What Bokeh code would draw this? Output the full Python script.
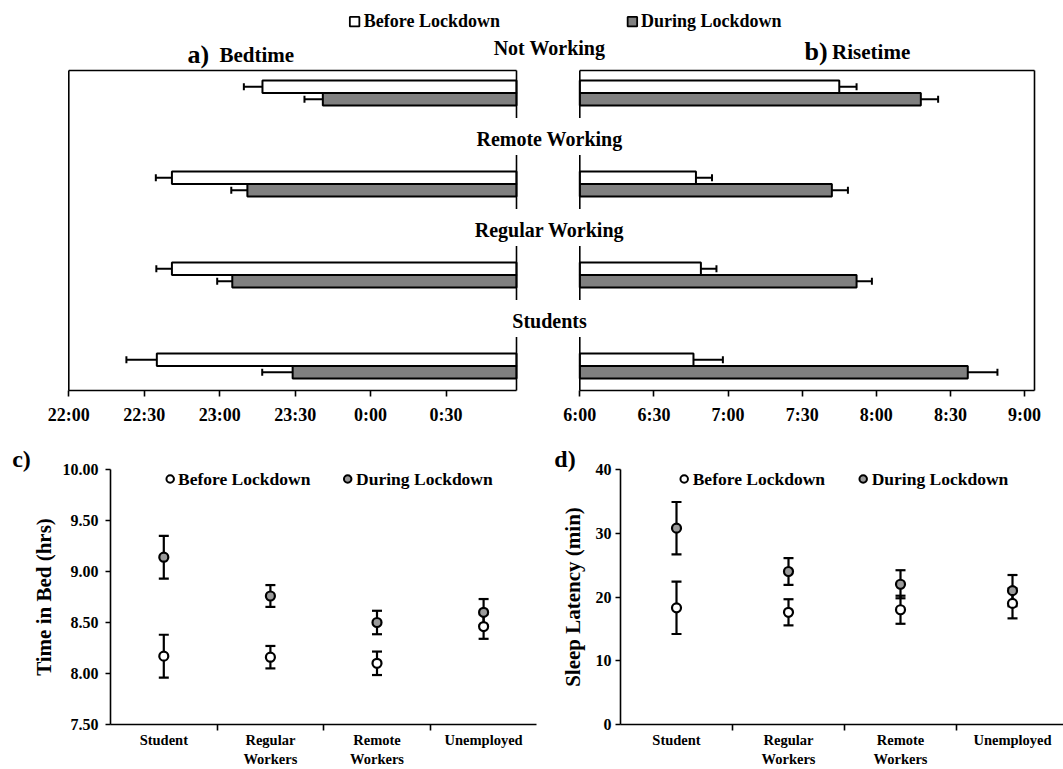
from bokeh.plotting import figure
from bokeh.models import (Range1d, LinearAxis, FixedTicker, Whisker, TeeHead,
                          ColumnDataSource, NumeralTickFormatter)
from bokeh.layouts import column, row
from bokeh.transform import dodge
from bokeh.core.properties import value
from bokeh.embed import file_html
from bokeh.resources import INLINE

FONT = "Liberation Serif"

# ---------------- data ----------------
groups = ["Not Working", "Remote Working", "Regular Working", "Students"]
bed_before = ["23:17", "22:41", "22:41", "22:35"]
bed_before_err = [7.4, 6.4, 6.2, 12.1]          # minutes
bed_during = ["23:41", "23:11", "23:05", "23:29"]
bed_during_err = [7.3, 6.4, 6.0, 12.1]
rise_before = ["7:45", "6:47", "6:49", "6:46"]
rise_before_err = [7.0, 6.5, 6.3, 11.9]
rise_during = ["8:18", "7:42", "7:52", "8:37"]
rise_during_err = [7.0, 6.5, 6.2, 12.0]

bed_ticks = [22, 22.5, 23, 23.5, 24, 24.5]
bed_tick_labels = ["22:00", "22:30", "23:00", "23:30", "0:00", "0:30"]
rise_ticks = [6, 6.5, 7, 7.5, 8, 8.5, 9]
rise_tick_labels = ["6:00", "6:30", "7:00", "7:30", "8:00", "8:30", "9:00"]

categories = ["Student", "Regular\nWorkers", "Remote\nWorkers", "Unemployed"]
tib_before = [8.17, 8.16, 8.10, 8.46]
tib_before_err = [0.21, 0.11, 0.115, 0.12]
tib_during = [9.14, 8.76, 8.50, 8.60]
tib_during_err = [0.21, 0.107, 0.115, 0.13]
tib_ticks = [7.5, 8.0, 8.5, 9.0, 9.5, 10.0]

sl_before = [18.3, 17.6, 18.0, 19.0]
sl_before_err = [4.1, 2.05, 2.2, 2.35]
sl_during = [30.8, 24.0, 22.0, 21.0]
sl_during_err = [4.1, 2.1, 2.2, 2.45]
sl_ticks = [0, 10, 20, 30, 40]

legend_labels = ["Before Lockdown", "During Lockdown"]


def hours(t, night=False):
    h, m = (int(s) for s in t.split(":"))
    v = h + m / 60.0
    if night and v < 12:
        v += 24.0
    return v


# ---------------- layout constants (page pixels) ----------------
PAGE_W = 1063
TOP_H = 430
BOT_H = 339
X0, Y0 = 0, 0
A_L, A_R = 68.3, 516.0
B_L, B_R = 579.3, 1034.0
BOX_T, BOX_B = 70.0, 390.0
BED_MIN, BED_MAX = 22.0, 24 + 58 / 60.0
RISE_MIN, RISE_MAX = 6.0, 9 + 4 / 60.0
G0, GSTEP = 92.5, 91.0
BAR_H, OFF = 12.5, 6.25
LABEL_X = 549.0

WHITE, BARGRAY, DOTGRAY = "white", "#808080", "#9a9a9a"


def lin_range(v0, p0, v1, p1, q0, q1):
    s = (p1 - p0) / (v1 - v0)
    return Range1d(start=v0 + (q0 - p0) / s, end=v0 + (q1 - p0) / s)


def txt(p, xs, ys, texts, size, align="center", baseline="middle", **kw):
    p.text(x=xs, y=ys, text=texts, text_font=value(FONT),
           text_font_size=value(size), text_font_style="bold",
           text_color="black", text_align=align, text_baseline=baseline, **kw)


def style_axis(ax, size):
    ax.axis_line_color = "black"
    ax.axis_line_width = 1.6
    ax.major_tick_line_color = "black"
    ax.major_tick_line_width = 1.6
    ax.minor_tick_line_color = "black"
    ax.minor_tick_line_width = 1.6
    ax.major_label_text_font = FONT
    ax.major_label_text_font_size = size
    ax.major_label_text_font_style = "bold"
    ax.major_label_text_color = "black"
    ax.axis_label_text_font = FONT
    ax.axis_label_text_font_style = "bold"
    ax.axis_label_text_color = "black"


# ================= top figure: a) Bedtime, b) Risetime =================
TOP_B = Y0 + TOP_H
p = figure(width=PAGE_W, height=TOP_H,
           x_range=Range1d(X0, X0 + PAGE_W), y_range=Range1d(TOP_B, Y0),
           x_axis_type=None, y_axis_type=None, toolbar_location=None,
           output_backend="svg", min_border=0, outline_line_color=None,
           background_fill_color="white", border_fill_color="white")
p.extra_x_ranges = {
    "bed": lin_range(BED_MIN, A_L, BED_MAX, A_R, X0, X0 + PAGE_W),
    "rise": lin_range(RISE_MIN, B_L, RISE_MAX, B_R, X0, X0 + PAGE_W),
}
p.extra_y_ranges = {"grp": lin_range(0, G0, 1, G0 + GSTEP, TOP_B, Y0)}

bb = [hours(t, True) for t in bed_before]
bd = [hours(t, True) for t in bed_during]
rb = [hours(t) for t in rise_before]
rd = [hours(t) for t in rise_during]
src = ColumnDataSource(dict(
    g=list(range(len(groups))), label=groups,
    bed_b=bb, bed_b_lo=[v - e / 60 for v, e in zip(bb, bed_before_err)],
    bed_d=bd, bed_d_lo=[v - e / 60 for v, e in zip(bd, bed_during_err)],
    rise_b=rb, rise_b_hi=[v + e / 60 for v, e in zip(rb, rise_before_err)],
    rise_d=rd, rise_d_hi=[v + e / 60 for v, e in zip(rd, rise_during_err)],
))

yb = dodge("g", -OFF / GSTEP)
yd = dodge("g", OFF / GSTEP)
hh = BAR_H / GSTEP

for col, lo, base, fill in [("bed_b", "bed_b_lo", yb, WHITE), ("bed_d", "bed_d_lo", yd, BARGRAY)]:
    p.add_layout(Whisker(source=src, base=base, lower=lo, upper=col, dimension="width",
                         x_range_name="bed", y_range_name="grp", line_width=2, line_color="black",
                         lower_head=TeeHead(size=7, line_width=2, line_color="black"),
                         upper_head=None))
    p.hbar(y=base, height=hh, left=col, right=BED_MAX, source=src,
           x_range_name="bed", y_range_name="grp",
           fill_color=fill, line_color="black", line_width=2)

for col, hi, base, fill in [("rise_b", "rise_b_hi", yb, WHITE), ("rise_d", "rise_d_hi", yd, BARGRAY)]:
    p.add_layout(Whisker(source=src, base=base, lower=col, upper=hi, dimension="width",
                         x_range_name="rise", y_range_name="grp", line_width=2, line_color="black",
                         upper_head=TeeHead(size=7, line_width=2, line_color="black"),
                         lower_head=None))
    p.hbar(y=base, height=hh, left=RISE_MIN, right=col, source=src,
           x_range_name="rise", y_range_name="grp",
           fill_color=fill, line_color="black", line_width=2)

# box lines (top / outer sides), inner sides broken around the group titles
p.segment(x0=[A_L, A_L, B_L, B_R], x1=[A_R, A_L, B_R, B_R],
          y0=[BOX_T, BOX_T, BOX_T, BOX_T], y1=[BOX_T, BOX_B, BOX_T, BOX_B],
          line_color="black", line_width=1.6)
seg_y0 = [max(BOX_T, G0 + i * GSTEP - 29) for i in range(len(groups))]
seg_y1 = [min(BOX_B, G0 + i * GSTEP + 25) for i in range(len(groups))]
for xe in (A_R, B_L):
    p.segment(x0=[xe] * len(groups), x1=[xe] * len(groups), y0=seg_y0, y1=seg_y1,
              line_color="black", line_width=1.6)

# group titles
txt(p, LABEL_X, dodge("g", -45 / GSTEP), "label", "20px", source=src, y_range_name="grp")

# panel titles
txt(p, [187.0], [54.4], ["a)"], "26px", align="left")
txt(p, [219.0], [54.4], ["Bedtime"], "21px", align="left")
txt(p, [804.0], [51.0], ["b)"], "26px", align="left")
txt(p, [831.6], [51.0], ["Risetime"], "21px", align="left")

# legend
p.scatter(x=[354.1, 631.9], y=[21.2, 21.2], marker="square", size=9.5,
          fill_color=[WHITE, BARGRAY], line_color="black", line_width=1.8)
txt(p, [363.3, 640.5], [20.8, 20.8], legend_labels, "18px", align="left")

# axes
ax_a = LinearAxis(x_range_name="bed", ticker=FixedTicker(ticks=bed_ticks),
                  bounds=(BED_MIN, BED_MAX), fixed_location=BOX_B,
                  major_label_overrides=dict(zip(bed_ticks, bed_tick_labels)))
ax_b = LinearAxis(x_range_name="rise", ticker=FixedTicker(ticks=rise_ticks),
                  bounds=(RISE_MIN, RISE_MAX), fixed_location=BOX_B,
                  major_label_overrides=dict(zip(rise_ticks, rise_tick_labels)))
for ax in (ax_a, ax_b):
    style_axis(ax, "18px")
    ax.major_tick_out = 6
    ax.major_tick_in = 0
    ax.minor_tick_out = 0
    ax.minor_tick_in = 0
    ax.major_label_standoff = 8
    p.add_layout(ax, "below")


# ================= bottom figures: c) and d) =================
BOT_T = Y0 + TOP_H
BOT_B = BOT_T + BOT_H
AX_T, AX_B = 469.0, 724.0


def scatter_panel(fig_l, fig_r, yaxis_x, cat_step, vmin, vmax, ticks, fmt,
                  before, before_err, during, during_err, ylabel, tag, tag_x,
                  leg_x, label_standoff, title_standoff, cap):
    q = figure(width=int(round(fig_r - fig_l)), height=BOT_H,
               x_range=lin_range(0, yaxis_x, 1, yaxis_x + cat_step, fig_l, fig_r),
               y_range=lin_range(vmin, AX_B, vmax, AX_T, BOT_B, BOT_T),
               x_axis_type=None, y_axis_type=None, toolbar_location=None,
               output_backend="svg", min_border=0, outline_line_color=None,
               background_fill_color="white", border_fill_color="white")
    q.extra_x_ranges = {"px": Range1d(fig_l, fig_r)}
    q.extra_y_ranges = {"py": Range1d(BOT_B, BOT_T)}
    s = ColumnDataSource(dict(
        i=list(range(len(categories))),
        b=before, b_lo=[v - e for v, e in zip(before, before_err)],
        b_hi=[v + e for v, e in zip(before, before_err)],
        d=during, d_lo=[v - e for v, e in zip(during, during_err)],
        d_hi=[v + e for v, e in zip(during, during_err)],
    ))
    xc = dodge("i", 0.5)
    for lo, hi in (("d_lo", "d_hi"), ("b_lo", "b_hi")):
        q.add_layout(Whisker(source=s, base=xc, lower=lo, upper=hi, dimension="height",
                             line_width=2.2, line_color="black",
                             upper_head=TeeHead(size=cap, line_width=2.2, line_color="black"),
                             lower_head=TeeHead(size=cap, line_width=2.2, line_color="black")))
    q.scatter(x=xc, y="d", source=s, marker="circle", size=9,
              fill_color=DOTGRAY, line_color="black", line_width=2.2)
    q.scatter(x=xc, y="b", source=s, marker="circle", size=9,
              fill_color=WHITE, line_color="black", line_width=2.2)

    xax = LinearAxis(ticker=FixedTicker(ticks=[k + 0.5 for k in range(len(categories))],
                                        minor_ticks=list(range(1, len(categories)))),
                     major_label_overrides={k + 0.5: c for k, c in enumerate(categories)},
                     bounds=(0, len(categories)), fixed_location=vmin)
    style_axis(xax, "14.5px")
    xax.major_tick_out = 0
    xax.major_tick_in = 0
    xax.minor_tick_out = 6
    xax.minor_tick_in = 0
    xax.major_label_standoff = 1
    q.add_layout(xax, "below")

    yax = LinearAxis(ticker=FixedTicker(ticks=ticks), bounds=(vmin, vmax),
                     fixed_location=0, axis_label=ylabel)
    if fmt:
        yax.formatter = NumeralTickFormatter(format=fmt)
    style_axis(yax, "16px")
    yax.major_tick_out = 5
    yax.major_tick_in = 0
    yax.minor_tick_out = 0
    yax.minor_tick_in = 0
    yax.major_label_standoff = label_standoff
    yax.axis_label_text_font_size = "21px"
    yax.axis_label_standoff = title_standoff
    q.add_layout(yax, "left")

    txt(q, [tag_x], [458.0], [tag], "24px", x_range_name="px", y_range_name="py")
    q.scatter(x=[leg_x[0], leg_x[2]], y=[478.5, 478.5], marker="circle", size=7.5,
              fill_color=[WHITE, DOTGRAY], line_color="black", line_width=2,
              x_range_name="px", y_range_name="py")
    txt(q, [leg_x[1], leg_x[3]], [478.5, 478.5], legend_labels, "17.5px", align="left",
        x_range_name="px", y_range_name="py")
    return q


pc = scatter_panel(X0, 548.0, 110.0, 106.6, 7.5, 10.0, tib_ticks, "0.00",
                   tib_before, tib_before_err, tib_during, tib_during_err,
                   "Time in Bed (hrs)", "c)", 21.0, [169.7, 177.5, 347.2, 355.6], 7, 4, 10)
pd_ = scatter_panel(548.0, X0 + PAGE_W, 620.0, 112.0, 0.0, 40.0, sl_ticks, None,
                    sl_before, sl_before_err, sl_during, sl_during_err,
                    "Sleep Latency (min)", "d)", 564.5, [683.7, 692.2, 862.7, 871.2], 4, 8, 10)

layout = column(p, row(pc, pd_, spacing=0), spacing=0)
open("out.html", "w").write(file_html(layout, INLINE))
